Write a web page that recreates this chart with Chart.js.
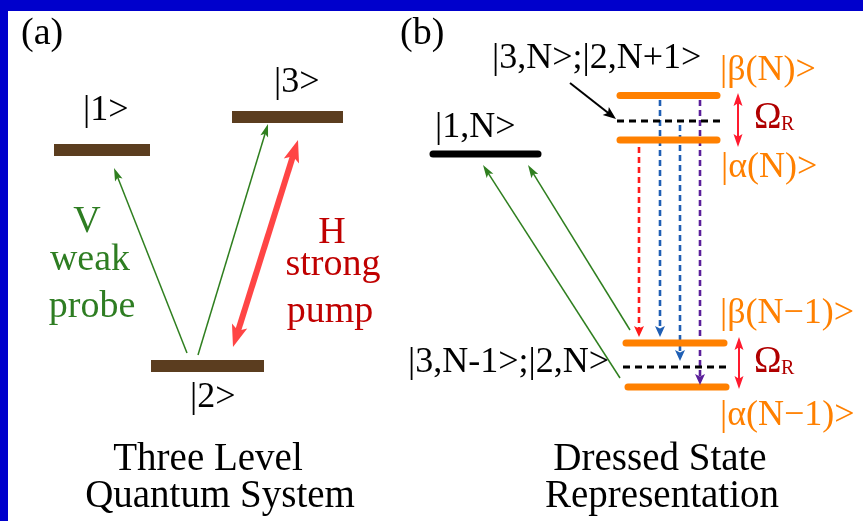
<!DOCTYPE html>
<html>
<head>
<meta charset="utf-8">
<script src="https://cdn.jsdelivr.net/npm/chart.js@4"></script>
<style>
  html, body { margin: 0; padding: 0; background: #0000cc; }
  #wrap { width: 863px; height: 521px; }
</style>
</head>
<body>
<div id="wrap"><canvas id="levels" width="863" height="521"></canvas></div>
<script>
// --- Level diagram data (diagram units = picture pixels, y grows downward) ---

// panel (a): bare atom levels [xStart, xEnd, y]
const bareLevels = [[54, 150, 150], [232, 343, 117], [151, 264, 366]];
const bareLabels = ['|1>', '|3>', '|2>'];
const bareLabelPos = [[83, 120], [274, 92], [190, 407]];

// weak probe transitions |2> -> |1>, |2> -> |3>  [x0, y0, x1, y1]
const probeArrows = [[187, 353, 114, 168], [198, 355, 268, 124]];
// strong pump |2> <-> |3>
const pumpArrow = [233, 347, 298, 140];

// panel (b): dressed states
const groundLevel = [433, 538, 154];                         // |1,N>
const dressedSolid = [[617, 720, 95.5], [617, 720, 140], [623, 727, 343], [625, 729, 387]];
const dressedDashed = [[617, 720, 121], [623, 727, 367]];
const dressedProbe = [[620, 378, 483, 165], [630, 330, 528, 165]];
const emissions = [[639, 147, 639, 337], [660, 100, 660, 337], [680, 125, 680, 361], [700, 100, 700, 385]];
const emissionColors = ['#ff1a1a', '#1f5fb4', '#1f5fb4', '#5b1f9a'];
const rabiArrows = [[738, 93, 738, 147], [739, 337, 739, 389]];
const pointerArrow = [570, 83, 616, 119];

const dressedLabels = ['|β(N)>', '|α(N)>', '|β(N−1)>', '|α(N−1)>'];
const dressedLabelPos = [[720, 80], [721, 177], [720, 323], [720, 425]];
const rabiLabelPos = [[754, 128], [754, 372]];

// --- helpers ---
function seg(x0, y0, x1, y1, style) {
    return Object.assign({
        data: [{ x: x0, y: y0 }, { x: x1, y: y1 }],
        showLine: true, pointRadius: 0, pointHoverRadius: 0, fill: false,
        borderCapStyle: 'butt', tension: 0
    }, style);
}

// pull the start/end of an arrow back so the line does not poke out of the head
function arrowSeg(a, head, both, style) {
    let [x0, y0, x1, y1] = a;
    const len = Math.hypot(x1 - x0, y1 - y0);
    const ux = (x1 - x0) / len, uy = (y1 - y0) / len;
    const cut = head.len * 0.6;
    const ds = seg(x0 + (both ? ux * cut : 0), y0 + (both ? uy * cut : 0), x1 - ux * cut, y1 - uy * cut, style);
    ds.head = head;
    ds.tips = both ? [[x0, y0, x1, y1], [x1, y1, x0, y0]] : [[x0, y0, x1, y1]];
    return ds;
}

const datasets = [];

bareLevels.forEach(l => datasets.push(seg(l[0], l[2], l[1], l[2], { borderColor: '#5b3d1f', borderWidth: 12 })));
datasets.push(seg(groundLevel[0], groundLevel[2], groundLevel[1], groundLevel[2],
    { borderColor: '#000000', borderWidth: 7, borderCapStyle: 'round' }));
dressedSolid.forEach(l => datasets.push(seg(l[0] + 3, l[2], l[1] - 3, l[2],
    { borderColor: '#ff8000', borderWidth: 7, borderCapStyle: 'round' })));
dressedDashed.forEach(l => datasets.push(seg(l[0], l[2], l[1], l[2],
    { borderColor: '#000000', borderWidth: 3, borderDash: [7, 5] })));

probeArrows.forEach(a => datasets.push(arrowSeg(a, { len: 13, w: 8 }, false, { borderColor: '#2f7f1f', borderWidth: 1.5 })));
dressedProbe.forEach(a => datasets.push(arrowSeg(a, { len: 13, w: 8 }, false, { borderColor: '#2f7f1f', borderWidth: 1.5 })));
datasets.push(arrowSeg(pumpArrow, { len: 22, w: 16 }, true, { borderColor: '#ff4545', borderWidth: 6 }));
emissions.forEach((a, i) => datasets.push(arrowSeg(a, { len: 11, w: 10 }, false,
    { borderColor: emissionColors[i], borderWidth: 2.6, borderDash: [6, 4] })));
rabiArrows.forEach(a => datasets.push(arrowSeg(a, { len: 13, w: 9 }, true, { borderColor: '#ff1a2e', borderWidth: 2 })));
datasets.push(arrowSeg(pointerArrow, { len: 13, w: 10 }, false, { borderColor: '#000000', borderWidth: 2 }));

// --- plugins ---
const frame = {
    id: 'frame',
    beforeDraw(chart) {
        const { ctx, width, height } = chart;
        ctx.save();
        ctx.fillStyle = '#0000cc';
        ctx.fillRect(0, 0, width, height);
        ctx.fillStyle = '#ffffff';
        ctx.fillRect(8, 11, width - 8, height - 11);
        ctx.restore();
    }
};

const arrowHeads = {
    id: 'arrowHeads',
    afterDatasetsDraw(chart) {
        const { ctx, scales: { x, y } } = chart;
        chart.data.datasets.forEach(ds => {
            if (!ds.tips) return;
            ds.tips.forEach(t => {
                const px0 = x.getPixelForValue(t[0]), py0 = y.getPixelForValue(t[1]);
                const px1 = x.getPixelForValue(t[2]), py1 = y.getPixelForValue(t[3]);
                const ang = Math.atan2(py1 - py0, px1 - px0);
                ctx.save();
                ctx.translate(px1, py1);
                ctx.rotate(ang);
                ctx.fillStyle = ds.borderColor;
                ctx.beginPath();
                ctx.moveTo(0, 0);
                ctx.lineTo(-ds.head.len, -ds.head.w / 2);
                ctx.lineTo(-ds.head.len * 0.78, 0);
                ctx.lineTo(-ds.head.len, ds.head.w / 2);
                ctx.closePath();
                ctx.fill();
                ctx.restore();
            });
        });
    }
};

const SERIF = '"Liberation Serif", "Times New Roman", serif';

const labels = {
    id: 'labels',
    afterDraw(chart) {
        const { ctx, scales: { x, y } } = chart;
        const put = (txt, px, py, color, size, align) => {
            ctx.font = size + 'px ' + SERIF;
            ctx.fillStyle = color;
            ctx.textAlign = align || 'left';
            ctx.textBaseline = 'alphabetic';
            ctx.fillText(txt, x.getPixelForValue(px), y.getPixelForValue(py));
        };
        ctx.save();
        put('(a)', 21, 44, '#000', 38);
        put('(b)', 400, 44, '#000', 38);

        bareLabels.forEach((t, i) => put(t, bareLabelPos[i][0], bareLabelPos[i][1], '#000', 36));

        put('V', 87, 232, '#2e7d22', 38, 'center');
        put('weak', 90, 270, '#2e7d22', 38, 'center');
        put('probe', 92, 317, '#2e7d22', 38, 'center');

        put('H', 332, 243, '#c00000', 38, 'center');
        put('strong', 333, 275, '#c00000', 38, 'center');
        put('pump', 330, 322, '#c00000', 38, 'center');

        put('|3,N>;|2,N+1>', 492, 68, '#000', 36);
        put('|1,N>', 435, 137, '#000', 36);
        put('|3,N-1>;|2,N>', 408, 372, '#000', 36);

        dressedLabels.forEach((t, i) => put(t, dressedLabelPos[i][0], dressedLabelPos[i][1], '#ff8000', 36));

        rabiLabelPos.forEach(p => {
            put('Ω', p[0], p[1], '#b00000', 37);
            put('R', p[0] + 27, p[1] + 2, '#b00000', 20);
        });

        put('Three Level', 208, 470, '#000', 39, 'center');
        put('Quantum System', 220, 507, '#000', 39, 'center');
        put('Dressed State', 660, 470, '#000', 39, 'center');
        put('Representation', 662, 507, '#000', 39, 'center');
        ctx.restore();
    }
};

new Chart(document.getElementById('levels'), {
    type: 'scatter',
    data: { datasets: datasets },
    options: {
        responsive: false,
        animation: false,
        events: [],
        layout: { padding: 0 },
        plugins: { legend: { display: false }, tooltip: { enabled: false } },
        scales: {
            x: { type: 'linear', min: 0, max: 863, display: false },
            y: { type: 'linear', min: 0, max: 521, reverse: true, display: false }
        }
    },
    plugins: [frame, arrowHeads, labels]
});
</script>
</body>
</html>
